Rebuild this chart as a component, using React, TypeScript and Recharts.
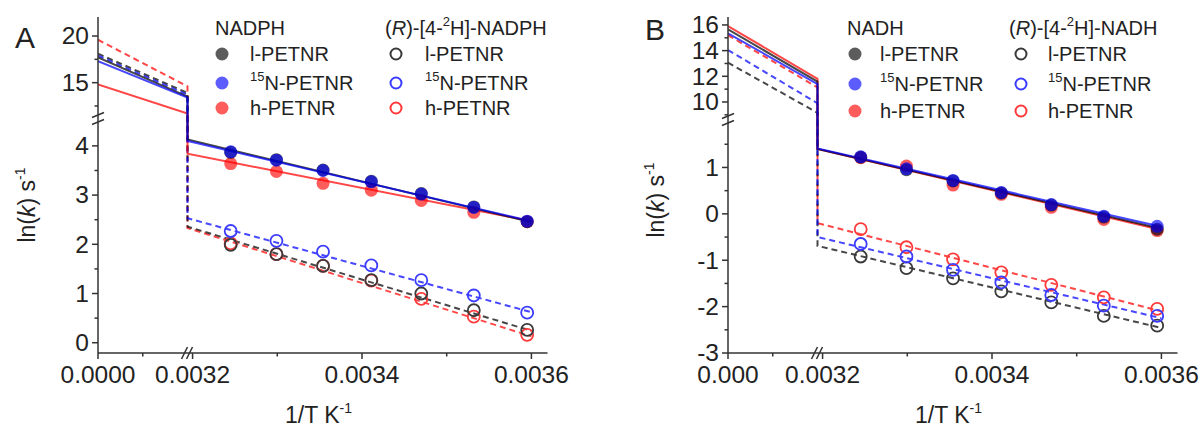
import React from 'react';
import { ComposedChart, Line, Scatter, XAxis, YAxis, ReferenceLine } from 'recharts';

// ---------- data ----------
const invT = [0.003245, 0.003299, 0.003354, 0.003411, 0.00347, 0.003532, 0.003595];
const enzymeSup = ['', '15', ''];
const enzymeMain = ['l-PETNR', 'N-PETNR', 'h-PETNR'];

// Panel A: NADPH (filled) and (R)-[4-2H]-NADPH (open)
const A_l = [3.87, 3.72, 3.51, 3.28, 3.03, 2.76, 2.46];
const A_n15 = [3.88, 3.71, 3.5, 3.27, 3.02, 2.75, 2.47];
const A_h = [3.64, 3.48, 3.24, 3.1, 2.89, 2.65, 2.46];
const A_lD = [1.99, 1.8, 1.56, 1.27, 1.0, 0.66, 0.26];
const A_n15D = [2.27, 2.07, 1.85, 1.57, 1.27, 0.96, 0.61];
const A_hD = [2.02, 1.8, 1.56, 1.26, 0.89, 0.53, 0.16];
// fitted lines, values at 1/T = 0, 0.001 (left segment end), 0.003194 (right segment start), 0.0036
const A_l_fit = [17.7, 13.5, 4.13, 2.45];
const A_n15_fit = [17.3, 13.4, 4.1, 2.47];
const A_h_fit = [14.8, 11.7, 3.84, 2.47];
const A_lD_fit = [18.1, 13.9, 2.36, 0.24];
const A_n15D_fit = [17.9, 13.7, 2.53, 0.62];
const A_hD_fit = [19.6, 14.6, 2.33, 0.13];

// Panel B: NADH (filled) and (R)-[4-2H]-NADH (open)
const B_l = [1.22, 0.95, 0.71, 0.45, 0.19, -0.07, -0.33];
const B_n15 = [1.23, 0.97, 0.72, 0.46, 0.2, -0.05, -0.27];
const B_h = [1.21, 1.03, 0.62, 0.42, 0.14, -0.12, -0.36];
const B_lD = [-0.92, -1.17, -1.39, -1.67, -1.91, -2.2, -2.41];
const B_n15D = [-0.65, -0.92, -1.21, -1.48, -1.75, -1.98, -2.2];
const B_hD = [-0.33, -0.72, -0.98, -1.26, -1.53, -1.8, -2.05];
const B_l_fit = [15.66, 11.58, 1.4, -0.32];
const B_n15_fit = [15.35, 11.4, 1.41, -0.28];
const B_h_fit = [15.92, 11.8, 1.4, -0.35];
const B_lD_fit = [13.06, 9.16, -0.69, -2.46];
const B_n15D_fit = [14.05, 9.9, -0.5, -2.25];
const B_hD_fit = [15.2, 11.14, -0.2, -2.1];

const FIT_X = [0, 0.001, 0.003194, 0.0036];
const xMajorRight = [0.0032, 0.0034, 0.0036];
const xMinorRight = [0.0033, 0.0035];

// ---------- styles ----------
const FONT = '"Liberation Sans", Arial, Helvetica, sans-serif';
const fillColors = ['#000000', '#0000ff', '#ff0000'];
const FILL_OP = 0.64;
const lineColors = ['#000000', '#0000ff', '#ff0000'];
const LINE_OP = 0.72;
const openColors = ['#3a3a3a', '#3c3cff', '#ff3a3a'];
const AXIS = '#333';
// draw order: h (red) first, then l (black), then 15N (blue) on top
const DRAW_ORDER = [2, 0, 1];

const PLOT_TOP = 17;
const PLOT_BOTTOM = 353;
const PLOT_H = PLOT_BOTTOM - PLOT_TOP;
const LEFT_W = 89.5;
const RIGHT_W = 360;
const PLOT_W = LEFT_W + RIGHT_W;
const X_LEFT_MAX = 0.001;
const X_RIGHT_MIN = 0.003194;
const X_RIGHT_MAX = 0.003619;

const dX = (v: number) =>
  v <= 0.002 ? (v / X_LEFT_MAX) * LEFT_W : LEFT_W + ((v - X_RIGHT_MIN) / (X_RIGHT_MAX - X_RIGHT_MIN)) * RIGHT_W;

type Cfg = {
  lowMin: number; lowMax: number; upMin: number; upMax: number;
  lowTopPx: number; upBottomPx: number;
  yMajorLow: number[]; yMinorLow: number[]; yMajorUp: number[]; yMinorUp: number[];
  zeroLabel: string;
};

const cfgA: Cfg = {
  lowMin: -0.209, lowMax: 4.526, upMin: 11.32, upMax: 22.04, lowTopPx: 120, upBottomPx: 117,
  yMajorLow: [0, 1, 2, 3, 4], yMinorLow: [0.5, 1.5, 2.5, 3.5], yMajorUp: [15, 20], yMinorUp: [12.5, 17.5],
  zeroLabel: '0.0000',
};
const cfgB: Cfg = {
  lowMin: -3.0, lowMax: 1.98, upMin: 8.83, upMax: 16.62, lowTopPx: 122, upBottomPx: 117,
  yMajorLow: [-3, -2, -1, 0, 1], yMinorLow: [-2.5, -1.5, -0.5, 0.5, 1.5], yMajorUp: [10, 12, 14, 16], yMinorUp: [9, 11, 13, 15],
  zeroLabel: '0.000',
};

function yMapper(cfg: Cfg) {
  const hL = PLOT_BOTTOM - cfg.lowTopPx;
  const hU = cfg.upBottomPx - PLOT_TOP;
  const gap = cfg.lowTopPx - cfg.upBottomPx;
  const split = (cfg.lowMax + cfg.upMin) / 2;
  const f = (v: number) =>
    v <= split
      ? ((v - cfg.lowMin) / (cfg.lowMax - cfg.lowMin)) * hL
      : hL + gap + ((v - cfg.upMin) / (cfg.upMax - cfg.upMin)) * hU;
  return { f, breakCenter: hL + gap / 2 };
}

type Tick = { pos: number; label?: string };

const makeXTick = (ticks: Tick[]) => (props: any) => {
  const { x, y, payload } = props;
  const t = ticks.find((tt) => Math.abs(tt.pos - payload.value) < 0.01);
  if (!t) return <g />;
  return (
    <g>
      <line x1={x} x2={x} y1={y} y2={y + (t.label ? 6 : 3.5)} stroke={AXIS} strokeWidth={1.5} />
      {t.label ? (
        <text x={x} y={y + 30} textAnchor="middle" fontSize={24.5} fontFamily={FONT} fill="#222">
          {t.label}
        </text>
      ) : null}
    </g>
  );
};

const makeYTick = (ticks: Tick[]) => (props: any) => {
  const { x, y, payload } = props;
  const t = ticks.find((tt) => Math.abs(tt.pos - payload.value) < 0.01);
  if (!t) return <g />;
  return (
    <g>
      <line x1={x - (t.label ? 6 : 3.5)} x2={x} y1={y} y2={y} stroke={AXIS} strokeWidth={1.5} />
      {t.label ? (
        <text x={x - 9} y={y} dy="0.34em" textAnchor="end" fontSize={24.5} fontFamily={FONT} fill="#222">
          {t.label}
        </text>
      ) : null}
    </g>
  );
};

type PanelProps = {
  cfg: Cfg;
  left: number;
  width: number;
  plotLeft: number;
  filled: number[][];
  open: number[][];
  solidFits: number[][];
  dashFits: number[][];
};

function Panel({ cfg, left, width, plotLeft, filled, open, solidFits, dashFits }: PanelProps) {
  const { f: dY, breakCenter } = yMapper(cfg);
  const yAxisW = 60;
  const marginLeft = plotLeft - left - yAxisW;
  const marginRight = width - (plotLeft - left) - PLOT_W;

  const xTicks: Tick[] = [
    { pos: dX(0), label: cfg.zeroLabel },
    { pos: dX(0.0005) },
    ...xMajorRight.map((v) => ({ pos: dX(v), label: v.toFixed(4) })),
    ...xMinorRight.map((v) => ({ pos: dX(v) })),
  ];
  const yTicks: Tick[] = [
    ...cfg.yMajorLow.map((v) => ({ pos: dY(v), label: String(v) })),
    ...cfg.yMinorLow.map((v) => ({ pos: dY(v) })),
    ...cfg.yMajorUp.map((v) => ({ pos: dY(v), label: String(v) })),
    ...cfg.yMinorUp.map((v) => ({ pos: dY(v) })),
  ];

  const fitData = (vals: number[]) => vals.map((v, i) => ({ x: dX(FIT_X[i]), y: dY(v) }));
  const ptData = (vals: number[]) => vals.map((v, i) => ({ x: dX(invT[i]), y: dY(v) }));
  const xb = dX(X_LEFT_MAX);

  return (
    <div style={{ position: 'absolute', left, top: 0 }}>
      <ComposedChart
        width={width}
        height={427}
        margin={{ top: PLOT_TOP, right: marginRight, bottom: 427 - PLOT_BOTTOM - 30, left: marginLeft }}
      >
        <XAxis
          type="number"
          dataKey="x"
          domain={[0, PLOT_W]}
          ticks={xTicks.map((t) => t.pos)}
          interval={0}
          tickSize={0}
          tickMargin={0}
          tickLine={false}
          tick={makeXTick(xTicks)}
          axisLine={{ stroke: AXIS, strokeWidth: 1.5 }}
          height={30}
          allowDataOverflow
        />
        <YAxis
          type="number"
          dataKey="y"
          domain={[0, PLOT_H]}
          ticks={yTicks.map((t) => t.pos)}
          interval={0}
          tickSize={0}
          tickMargin={0}
          tickLine={false}
          tick={makeYTick(yTicks)}
          axisLine={{ stroke: AXIS, strokeWidth: 1.5 }}
          width={yAxisW}
          allowDataOverflow
        />
        {DRAW_ORDER.map((i) => (
          <Line
            key={'d' + i}
            data={fitData(dashFits[i])}
            dataKey="y"
            type="linear"
            stroke={lineColors[i]}
            strokeWidth={2}
            strokeOpacity={LINE_OP}
            strokeDasharray="6 4"
            dot={false}
            activeDot={false}
            isAnimationActive={false}
          />
        ))}
        {DRAW_ORDER.map((i) => (
          <Line
            key={'s' + i}
            data={fitData(solidFits[i])}
            dataKey="y"
            type="linear"
            stroke={lineColors[i]}
            strokeWidth={2}
            strokeOpacity={LINE_OP}
            dot={false}
            activeDot={false}
            isAnimationActive={false}
          />
        ))}
        {DRAW_ORDER.map((i) => (
          <Scatter
            key={'o' + i}
            data={ptData(open[i])}
            dataKey="y"
            isAnimationActive={false}
            shape={(p: any) => (
              <circle cx={p.cx} cy={p.cy} r={6} fill="none" stroke={openColors[i]} strokeWidth={1.8} />
            )}
          />
        ))}
        {DRAW_ORDER.map((i) => (
          <Scatter
            key={'f' + i}
            data={ptData(filled[i])}
            dataKey="y"
            isAnimationActive={false}
            shape={(p: any) => (
              <circle cx={p.cx} cy={p.cy} r={6.5} fill={fillColors[i]} fillOpacity={FILL_OP} />
            )}
          />
        ))}
        {/* y axis break */}
        <ReferenceLine
          segment={[{ x: 0, y: breakCenter - 2.5 }, { x: 0, y: breakCenter + 2.5 }]}
          stroke="#fff"
          strokeWidth={4}
          ifOverflow="visible"
        />
        <ReferenceLine
          segment={[{ x: -6, y: breakCenter - 6 }, { x: 6, y: breakCenter - 1 }]}
          stroke={AXIS}
          strokeWidth={1.5}
          ifOverflow="visible"
        />
        <ReferenceLine
          segment={[{ x: -6, y: breakCenter + 1 }, { x: 6, y: breakCenter + 6 }]}
          stroke={AXIS}
          strokeWidth={1.5}
          ifOverflow="visible"
        />
        {/* x axis break */}
        <ReferenceLine
          segment={[{ x: xb - 2, y: 0 }, { x: xb + 2, y: 0 }]}
          stroke="#fff"
          strokeWidth={4}
          ifOverflow="visible"
        />
        <ReferenceLine
          segment={[{ x: xb - 6, y: -6 }, { x: xb, y: 6 }]}
          stroke={AXIS}
          strokeWidth={1.5}
          ifOverflow="visible"
        />
        <ReferenceLine
          segment={[{ x: xb - 1, y: -6 }, { x: xb + 5, y: 6 }]}
          stroke={AXIS}
          strokeWidth={1.5}
          ifOverflow="visible"
        />
      </ComposedChart>
    </div>
  );
}

type LegendProps = {
  hx1: number; dot1: number; tx1: number;
  hx2: number; dot2: number; tx2: number;
  rows: number[]; cof: string;
};

function LegendBlock({ hx1, dot1, tx1, hx2, dot2, tx2, rows, cof }: LegendProps) {
  const txt = { fontFamily: FONT, fontSize: 20, fill: '#222' } as const;
  return (
    <g>
      <text x={hx1} y={35} {...txt}>{cof}</text>
      <text x={hx2} y={35} {...txt}>
        <tspan>(</tspan>
        <tspan fontStyle="italic">R</tspan>
        <tspan>)-[4-</tspan>
        <tspan fontSize={13} dy={-9}>2</tspan>
        <tspan dy={9}>{'H]-' + cof}</tspan>
      </text>
      {rows.map((ry, i) => (
        <g key={i}>
          <circle cx={dot1} cy={ry} r={6.5} fill={fillColors[i]} fillOpacity={FILL_OP} />
          <circle cx={dot2} cy={ry} r={5.5} fill="none" stroke={openColors[i]} strokeWidth={2} />
          {[tx1, tx2].map((tx, j) => (
            <text key={j} x={tx} y={ry + 7} {...txt}>
              {enzymeSup[i] ? (
                <>
                  <tspan fontSize={13} dy={-9}>{enzymeSup[i]}</tspan>
                  <tspan dy={9}>{enzymeMain[i]}</tspan>
                </>
              ) : (
                enzymeMain[i]
              )}
            </text>
          ))}
        </g>
      ))}
    </g>
  );
}

function AxisTitles({ yx, yy, xx }: { yx: number; yy: number; xx: number }) {
  return (
    <g fontFamily={FONT} fill="#222">
      <text x={yx} y={yy} fontSize={23} textAnchor="middle" transform={`rotate(-90 ${yx} ${yy})`}>
        <tspan>ln(</tspan>
        <tspan fontStyle="italic">k</tspan>
        <tspan>) s</tspan>
        <tspan fontSize={14} dy={-10}>-1</tspan>
      </text>
      <text x={xx} y={423} fontSize={23}>
        <tspan>1/T K</tspan>
        <tspan fontSize={14} dy={-10}>-1</tspan>
      </text>
    </g>
  );
}

export default function App() {
  return (
    <div style={{ position: 'absolute', left: 0, top: 0, width: 1202, height: 427, background: '#fff', overflow: 'hidden' }}>
      <Panel
        cfg={cfgA}
        left={0}
        width={600}
        plotLeft={98}
        filled={[A_l, A_n15, A_h]}
        open={[A_lD, A_n15D, A_hD]}
        solidFits={[A_l_fit, A_n15_fit, A_h_fit]}
        dashFits={[A_lD_fit, A_n15D_fit, A_hD_fit]}
      />
      <Panel
        cfg={cfgB}
        left={600}
        width={602}
        plotLeft={728}
        filled={[B_l, B_n15, B_h]}
        open={[B_lD, B_n15D, B_hD]}
        solidFits={[B_l_fit, B_n15_fit, B_h_fit]}
        dashFits={[B_lD_fit, B_n15D_fit, B_hD_fit]}
      />
      <svg width={1202} height={427} style={{ position: 'absolute', left: 0, top: 0, pointerEvents: 'none' }}>
        <text x={15} y={48} fontSize={30} fontFamily={FONT} fill="#222">A</text>
        <text x={645} y={40} fontSize={30} fontFamily={FONT} fill="#222">B</text>
        <LegendBlock hx1={215} dot1={222} tx1={250} hx2={385} dot2={396} tx2={425} rows={[54, 83, 108]} cof="NADPH" />
        <LegendBlock hx1={847} dot1={855} tx1={880} hx2={1009} dot2={1021} tx2={1048} rows={[54, 84, 111]} cof="NADH" />
        <AxisTitles yx={35} yy={205} xx={285} />
        <AxisTitles yx={664} yy={200} xx={915} />
      </svg>
    </div>
  );
}
